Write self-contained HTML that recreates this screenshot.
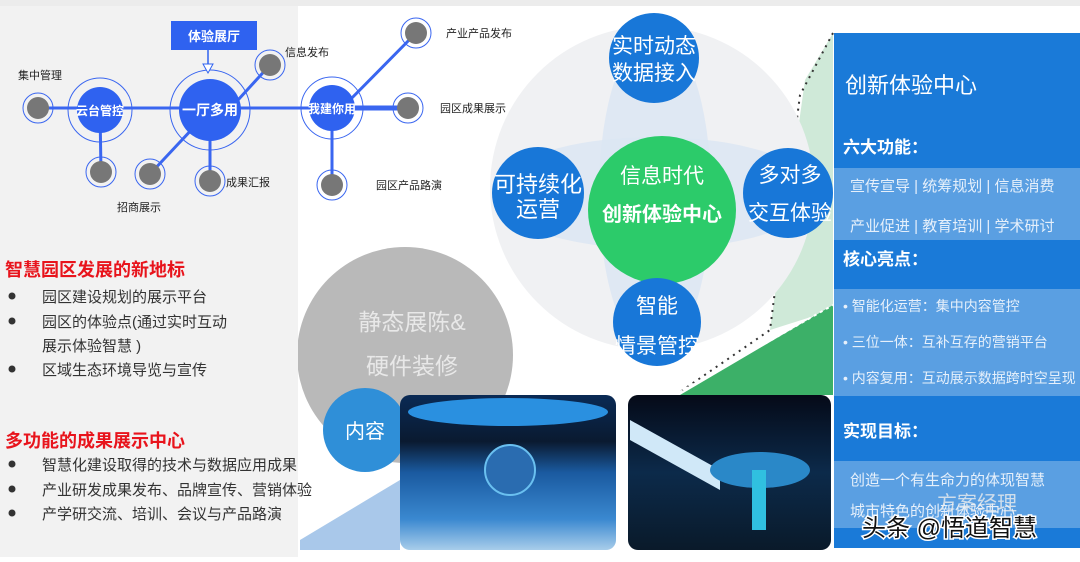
<!DOCTYPE html>
<html><head><meta charset="utf-8"><style>
html,body{margin:0;padding:0;background:#fff;}
svg text{font-family:"Liberation Sans","Noto Sans CJK SC",sans-serif;}
</style></head><body>
<svg width="1080" height="557" viewBox="0 0 1080 557" xmlns="http://www.w3.org/2000/svg">
<rect x="0" y="0" width="1080" height="557" fill="#fff"/>
<rect x="0" y="0" width="1080" height="6" fill="#ececec"/>
<!-- green decorations -->
<polygon points="833,33 805,80 770,330 833,310" fill="#cfe9d8"/>
<polygon points="680,395 833,305 833,395" fill="#3cb068"/>
<polyline points="833,33 800,95 770,330 680,392" fill="none" stroke="#333" stroke-width="2" stroke-dasharray="2 5"/>
<polyline points="680,392 833,305" fill="none" stroke="#fff" stroke-width="2" stroke-dasharray="3 4"/>
<polygon points="300,540 400,480 400,550 300,550" fill="#a9c8ea"/>
<!-- big pale circle -->
<circle cx="652" cy="188" r="162" fill="#f0f1f3"/>
<ellipse cx="655" cy="193" rx="162" ry="56" fill="#dbe6f3" opacity="0.8"/>
<ellipse cx="655" cy="193" rx="56" ry="162" fill="#dbe6f3" opacity="0.8"/>
<circle cx="662" cy="210" r="74" fill="#2ccb6a"/>
<circle cx="654" cy="58" r="45" fill="#1877d8"/>
<circle cx="538" cy="193" r="46" fill="#1877d8"/>
<circle cx="788" cy="193" r="45" fill="#1877d8"/>
<circle cx="657" cy="322" r="44" fill="#1877d8"/>
<g fill="#fff" text-anchor="middle">
<text x="654" y="53" font-size="21">实时动态</text>
<text x="654" y="80" font-size="21">数据接入</text>
<text x="538" y="192" font-size="22">可持续化</text>
<text x="538" y="217" font-size="22">运营</text>
<text x="790" y="182" font-size="21">多对多</text>
<text x="790" y="220" font-size="21">交互体验</text>
<text x="657" y="313" font-size="21">智能</text>
<text x="657" y="353" font-size="21">情景管控</text>
<text x="662" y="183" font-size="21">信息时代</text>
<text x="662" y="221" font-size="20" font-weight="bold">创新体验中心</text>
</g>
<!-- gray big circle -->
<circle cx="405" cy="355" r="108" fill="#b9b9b9"/>
<text x="412" y="330" font-size="23" fill="#e8e8e8" text-anchor="middle">静态展陈&amp;</text>
<text x="412" y="374" font-size="23" fill="#e8e8e8" text-anchor="middle">硬件装修</text>
<circle cx="365" cy="430" r="42" fill="#2f8fd8"/>
<text x="365" y="438" font-size="20" fill="#fff" text-anchor="middle">内容</text>
<!-- photos -->
<defs>
<linearGradient id="p1" x1="0" y1="0" x2="0" y2="1"><stop offset="0" stop-color="#0a2a55"/><stop offset="0.3" stop-color="#0a1a30"/><stop offset="0.5" stop-color="#1a5aa0"/><stop offset="0.8" stop-color="#3a88d0"/><stop offset="1" stop-color="#a8cdea"/></linearGradient>
<linearGradient id="p2" x1="0" y1="0" x2="0" y2="1"><stop offset="0" stop-color="#050a18"/><stop offset="0.5" stop-color="#0c2a4a"/><stop offset="1" stop-color="#0a1a2a"/></linearGradient>
</defs>
<rect x="400" y="395" width="216" height="155" rx="10" fill="url(#p1)"/>
<ellipse cx="508" cy="412" rx="100" ry="14" fill="#2a90e0"/>
<circle cx="510" cy="470" r="25" fill="#2a6cb0" stroke="#6ac0f0" stroke-width="2"/>
<rect x="628" y="395" width="203" height="155" rx="10" fill="url(#p2)"/>
<polygon points="630,420 720,470 720,490 630,440" fill="#d0e8f8"/>
<ellipse cx="760" cy="470" rx="50" ry="18" fill="#2a88c8"/>
<rect x="752" y="470" width="14" height="60" fill="#30c0e0"/>
<!-- left panel -->
<rect x="0" y="6" width="298" height="551" fill="#f2f2f2"/>
<!-- network -->
<g stroke="#3a66f0" stroke-width="3">
<line x1="38" y1="108" x2="400" y2="108"/>
<line x1="342" y1="108" x2="408" y2="108" stroke-width="5"/>
<line x1="100" y1="110" x2="101" y2="172"/>
<line x1="210" y1="110" x2="150" y2="174"/>
<line x1="210" y1="110" x2="210" y2="181"/>
<line x1="238" y1="100" x2="270" y2="65"/>
<line x1="342" y1="108" x2="416" y2="33"/>
<line x1="332" y1="108" x2="332" y2="185"/>
</g>
<g fill="none" stroke="#3a66f0" stroke-width="1">
<circle cx="100" cy="110" r="32"/>
<circle cx="210" cy="110" r="40"/>
<circle cx="332" cy="108" r="31"/>
<circle cx="38" cy="108" r="15"/><circle cx="101" cy="172" r="15"/><circle cx="150" cy="174" r="15"/>
<circle cx="210" cy="181" r="15"/><circle cx="270" cy="65" r="15"/><circle cx="416" cy="33" r="15"/>
<circle cx="408" cy="108" r="15"/><circle cx="332" cy="185" r="15"/>
</g>
<circle cx="100" cy="110" r="23" fill="#2f62f0"/>
<circle cx="210" cy="110" r="31" fill="#2f62f0"/>
<circle cx="332" cy="108" r="23" fill="#2f62f0"/>
<g fill="#777">
<circle cx="38" cy="108" r="11"/><circle cx="101" cy="172" r="11"/><circle cx="150" cy="174" r="11"/>
<circle cx="210" cy="181" r="11"/><circle cx="270" cy="65" r="11"/><circle cx="416" cy="33" r="11"/>
<circle cx="408" cy="108" r="11"/><circle cx="332" cy="185" r="11"/>
</g>
<rect x="171" y="21" width="86" height="29" fill="#2f62f0"/>
<text x="214" y="41" font-size="13" fill="#fff" text-anchor="middle" font-weight="bold">体验展厅</text>
<line x1="208" y1="50" x2="208" y2="64" stroke="#2f62f0" stroke-width="1.5"/>
<polygon points="203,64 213,64 208,73" fill="#fff" stroke="#2f62f0"/>
<g font-size="12" fill="#fff" text-anchor="middle" font-weight="bold">
<text x="100" y="115">云台管控</text>
<text x="210" y="115" font-size="14">一厅多用</text>
<text x="332" y="113">我建你用</text>
</g>
<g font-size="11" fill="#222">
<text x="18" y="79">集中管理</text>
<text x="117" y="211">招商展示</text>
<text x="226" y="186">成果汇报</text>
<text x="285" y="56">信息发布</text>
<text x="446" y="37">产业产品发布</text>
<text x="440" y="112">园区成果展示</text>
<text x="376" y="189">园区产品路演</text>
</g>
<!-- left text -->
<text x="5" y="276" font-size="18" font-weight="bold" fill="#e8141c">智慧园区发展的新地标</text>
<text x="5" y="447" font-size="18" font-weight="bold" fill="#e8141c">多功能的成果展示中心</text>
<g fill="#333"><circle cx="12" cy="296" r="3.5"/><circle cx="12" cy="321" r="3.5"/><circle cx="12" cy="369" r="3.5"/>
<circle cx="12" cy="464" r="3.5"/><circle cx="12" cy="489" r="3.5"/><circle cx="12" cy="513" r="3.5"/></g>
<g font-size="15" fill="#333">
<text x="42" y="302">园区建设规划的展示平台</text>
<text x="42" y="327">园区的体验点(通过实时互动</text>
<text x="42" y="351">展示体验智慧 )</text>
<text x="42" y="375">区域生态环境导览与宣传</text>
<text x="42" y="470">智慧化建设取得的技术与数据应用成果</text>
<text x="42" y="495">产业研发成果发布、品牌宣传、营销体验</text>
<text x="42" y="519">产学研交流、培训、会议与产品路演</text>
</g>
<!-- right panel -->
<rect x="834" y="33" width="246" height="515" fill="#1a7ad8"/>
<rect x="834" y="168" width="246" height="72" fill="#5a9fe2"/>
<rect x="834" y="289" width="246" height="107" fill="#5a9fe2"/>
<rect x="834" y="461" width="246" height="67" fill="#5a9fe2"/>
<g fill="#fff">
<text x="845" y="93" font-size="22">创新体验中心</text>
<text x="843" y="153" font-size="17" font-weight="bold">六大功能：</text>
<text x="843" y="265" font-size="17" font-weight="bold">核心亮点：</text>
<text x="843" y="437" font-size="17" font-weight="bold">实现目标：</text>
</g>
<g fill="#e6f0fb" font-size="15">
<text x="850" y="191">宣传宣导 | 统筹规划 | 信息消费</text>
<text x="850" y="231">产业促进 | 教育培训 | 学术研讨</text>
<text x="843" y="311" font-size="14">• 智能化运营：集中内容管控</text>
<text x="843" y="347" font-size="14">• 三位一体：互补互存的营销平台</text>
<text x="843" y="383" font-size="14">• 内容复用：互动展示数据跨时空呈现</text>
<text x="850" y="485">创造一个有生命力的体现智慧</text>
<text x="850" y="516">城市特色的创新体验中心</text>
</g>
<text x="937" y="510" font-size="20" fill="#eee" opacity="0.8">方案经理</text>
<text x="862" y="536" font-size="24" fill="#111" stroke="#fff" stroke-width="3" paint-order="stroke">头条 @悟道智慧</text>
</svg>
</body></html>
